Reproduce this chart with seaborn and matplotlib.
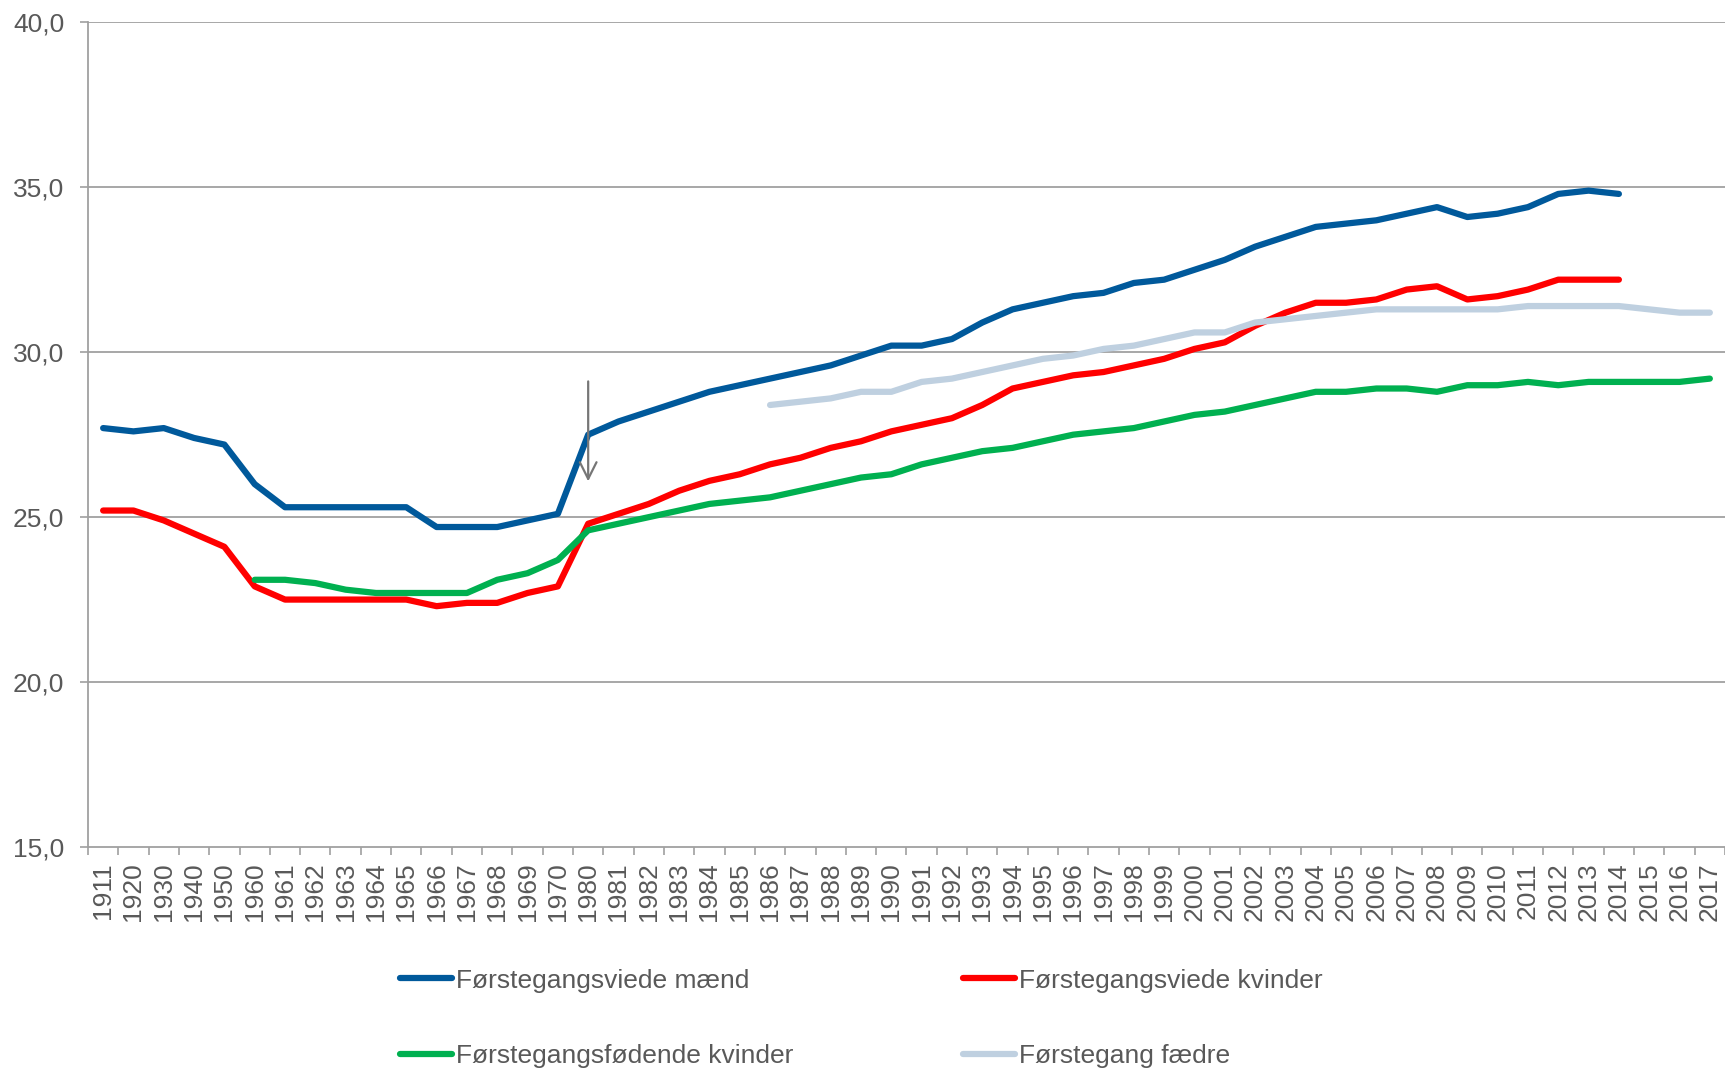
import numpy as np
import pandas as pd
import matplotlib
matplotlib.use("Agg")
import matplotlib.pyplot as plt
import seaborn as sns

# Kategorier på x-aksen
years = ["1911", "1920", "1930", "1940", "1950"] + \
        [str(y) for y in range(1960, 1971)] + \
        [str(y) for y in range(1980, 2018)]

nan = np.nan

viede_maend = [27.7, 27.6, 27.7, 27.4, 27.2,
               26.0, 25.3, 25.3, 25.3, 25.3, 25.3, 24.7, 24.7, 24.7, 24.9, 25.1,
               27.5, 27.9, 28.2, 28.5, 28.8, 29.0, 29.2, 29.4, 29.6, 29.9,
               30.2, 30.2, 30.4, 30.9, 31.3, 31.5, 31.7, 31.8, 32.1, 32.2,
               32.5, 32.8, 33.2, 33.5, 33.8, 33.9, 34.0, 34.2, 34.4, 34.1,
               34.2, 34.4, 34.8, 34.9, 34.8, nan, nan, nan]

viede_kvinder = [25.2, 25.2, 24.9, 24.5, 24.1,
                 22.9, 22.5, 22.5, 22.5, 22.5, 22.5, 22.3, 22.4, 22.4, 22.7, 22.9,
                 24.8, 25.1, 25.4, 25.8, 26.1, 26.3, 26.6, 26.8, 27.1, 27.3,
                 27.6, 27.8, 28.0, 28.4, 28.9, 29.1, 29.3, 29.4, 29.6, 29.8,
                 30.1, 30.3, 30.8, 31.2, 31.5, 31.5, 31.6, 31.9, 32.0, 31.6,
                 31.7, 31.9, 32.2, 32.2, 32.2, nan, nan, nan]

foedende_kvinder = [nan, nan, nan, nan, nan,
                    23.1, 23.1, 23.0, 22.8, 22.7, 22.7, 22.7, 22.7, 23.1, 23.3, 23.7,
                    24.6, 24.8, 25.0, 25.2, 25.4, 25.5, 25.6, 25.8, 26.0, 26.2,
                    26.3, 26.6, 26.8, 27.0, 27.1, 27.3, 27.5, 27.6, 27.7, 27.9,
                    28.1, 28.2, 28.4, 28.6, 28.8, 28.8, 28.9, 28.9, 28.8, 29.0,
                    29.0, 29.1, 29.0, 29.1, 29.1, 29.1, 29.1, 29.2]

faedre = [nan, nan, nan, nan, nan,
          nan, nan, nan, nan, nan, nan, nan, nan, nan, nan, nan,
          nan, nan, nan, nan, nan, nan, 28.4, 28.5, 28.6, 28.8,
          28.8, 29.1, 29.2, 29.4, 29.6, 29.8, 29.9, 30.1, 30.2, 30.4,
          30.6, 30.6, 30.9, 31.0, 31.1, 31.2, 31.3, 31.3, 31.3, 31.3,
          31.3, 31.4, 31.4, 31.4, 31.4, 31.3, 31.2, 31.2]

series_names = ["Førstegangsviede mænd", "Førstegangsviede kvinder",
                "Førstegangsfødende kvinder", "Førstegang fædre"]
series_vals = [viede_maend, viede_kvinder, foedende_kvinder, faedre]
colors = ["#00599B", "#FF0000", "#00B050", "#BFD0E0"]

# pil ved 1980 (databrud)
arrow_year = "1980"
arrow_from, arrow_to = 29.2, 26.0

frames = []
for name, vals in zip(series_names, series_vals):
    frames.append(pd.DataFrame({"pos": np.arange(len(years)), "år": years,
                                "alder": vals, "serie": name}))
df = pd.concat(frames, ignore_index=True).dropna()

sns.set_theme(style="white")
plt.rcParams["font.family"] = ["Liberation Sans", "DejaVu Sans"]
grey_txt = "#595959"
grey_line = "#A0A0A0"

fig = plt.figure(figsize=(17.25, 10.68), dpi=100)
ax = fig.add_axes([0.051, 0.207, 0.949, 0.772])

sns.lineplot(data=df, x="pos", y="alder", hue="serie", hue_order=series_names,
             palette=colors, linewidth=4.5, ax=ax, legend=False,
             solid_capstyle="round")

ax.set_xlim(-0.5, len(years) - 0.5)
ax.set_ylim(15, 40)
ax.set_yticks(np.arange(15, 41, 5))
ax.set_yticklabels([f"{v:.1f}".replace(".", ",") for v in np.arange(15, 41, 5)])
ax.set_xticks(np.arange(len(years)))
ax.set_xticklabels(years, rotation=90)
ax.set_xticks(np.arange(len(years) + 1) - 0.5, minor=True)
ax.tick_params(axis="x", which="major", length=0, pad=11, labelsize=19,
               labelcolor=grey_txt)
ax.tick_params(axis="x", which="minor", length=6, width=1.2, color=grey_line,
               direction="out", bottom=True)
ax.tick_params(axis="y", length=6, width=1.2, color=grey_line, pad=11,
               labelsize=19, labelcolor=grey_txt, left=True)
ax.set_xlabel("")
ax.set_ylabel("")

for v in range(20, 41, 5):
    ax.axhline(v, color=grey_line, lw=1.3, zorder=0)
for s in ["top", "right"]:
    ax.spines[s].set_visible(False)
for s in ["left", "bottom"]:
    ax.spines[s].set_color(grey_line)
    ax.spines[s].set_linewidth(1.3)

ax.annotate("", xy=(years.index(arrow_year), arrow_to),
            xytext=(years.index(arrow_year), arrow_from),
            arrowprops=dict(arrowstyle="->", color="#767676", lw=1.6,
                            mutation_scale=30))

# legend fylder kolonnevis -> rækkefølge så rækkerne matcher
leg_order = [0, 2, 1, 3]
handles = [plt.Line2D([], [], color=colors[i], lw=4.5, solid_capstyle="round")
           for i in leg_order]
labels = [series_names[i] for i in leg_order]
fig.legend(handles, labels, loc="upper left",
           bbox_to_anchor=(0.224, 0.1055), ncol=2, frameon=False,
           fontsize=19, handlelength=2.0, handletextpad=0.15,
           columnspacing=6.4, labelspacing=1.95, borderpad=0,
           labelcolor=grey_txt)

fig.savefig("out.png", dpi=100)
